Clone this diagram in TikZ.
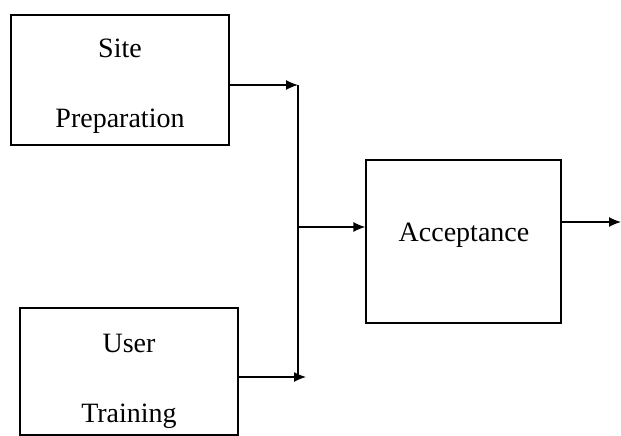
\documentclass[tikz,border=0pt]{standalone}
\usepackage{fontspec}
\setmainfont{Liberation Serif}
\usetikzlibrary{arrows.meta}
\begin{document}
\begin{tikzpicture}[x=1pt,y=-1pt,
  stage/.style={draw, line width=1.3pt, inner sep=0pt},
  caption/.style={inner sep=0pt, align=center,
    font=\fontsize{28}{70}\selectfont},
  flow/.style={line width=1.3pt, -{Latex[length=12pt,width=10pt]}},
  bus/.style={line width=1.3pt}]
\useasboundingbox (0,0) rectangle (621,436);
% the three stages
\node[stage, minimum width=218pt, minimum height=130pt] (site) at (120,80) {};
\node[stage, minimum width=218pt, minimum height=127pt] (user) at (129,371.5) {};
\node[stage, minimum width=195pt, minimum height=163pt] (acc) at (463.5,241.5) {};
\node[caption] (sitetext) at (120,86) {Site\\Preparation};
\node[caption] (usertext) at (129,381) {User\\Training};
\node[caption] (acctext) at (464,235) {Acceptance};
% collecting line between the two inputs
\coordinate (top) at (298,85);
\coordinate (bot) at (298,377);
\coordinate (bottip) at (306,377);
\coordinate (mid) at (298,227);
\coordinate (out) at (621,222);
\draw[flow] (site.east |- top) -- (top);
\draw[bus] (top) -- (bot);
\draw[flow] (user.east |- bot) -- (bottip);
\draw[flow] (mid) -- (acc.west |- mid);
\draw[flow] (acc.east |- out) -- (out);
\end{tikzpicture}
\end{document}
